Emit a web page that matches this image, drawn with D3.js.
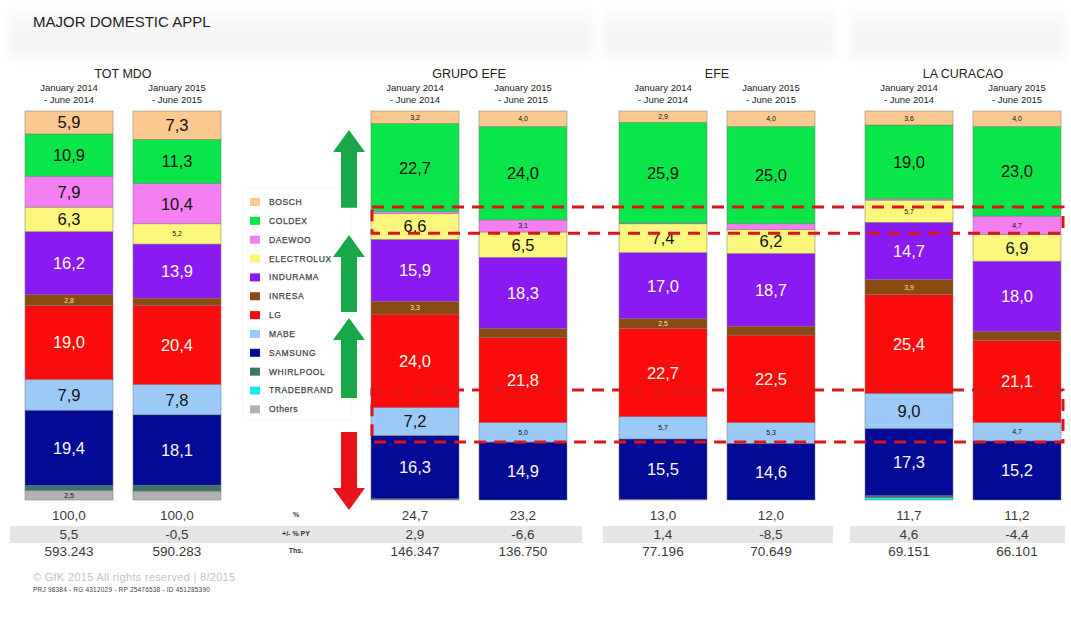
<!DOCTYPE html>
<html>
<head>
<meta charset="utf-8">
<script src="https://cdn.jsdelivr.net/npm/d3@7"></script>
<style>
  body { margin: 0; background: #fff; }
  text { font-family: "Liberation Sans", Arial, sans-serif; }
</style>
</head>
<body>
<svg id="chart" width="1071" height="624"></svg>
<script>
// ---- data ----
const brands = ["BOSCH", "COLDEX", "DAEWOO", "ELECTROLUX", "INDURAMA", "INRESA", "LG", "MABE", "SAMSUNG", "WHIRLPOOL", "TRADEBRAND", "Others"];
const brandColors = ["#fbc890", "#0ae64a", "#f47ff0", "#fbf67c", "#8a1af2", "#8a4a12", "#fb0c0c", "#9ccaf6", "#020a96", "#3e7567", "#1ce6ee", "#b2b2b2"];
const groups = ["TOT MDO", "GRUPO EFE", "EFE", "LA CURACAO"];
const periods = ["January 2014|- June 2014", "January 2015|- June 2015"];

// share per brand, same order as brands
const totMdo2014 = [5.9, 10.9, 7.9, 6.3, 16.2, 2.8, 19.0, 7.9, 19.4, 1.2, 0.0, 2.5];
const totMdo2015 = [7.3, 11.3, 10.4, 5.2, 13.9, 1.8, 20.4, 7.8, 18.1, 1.5, 0.0, 2.3];
const grupoEfe2014 = [3.2, 22.7, 0.5, 6.6, 15.9, 3.3, 24.0, 7.2, 16.3, 0.1, 0.0, 0.2];
const grupoEfe2015 = [4.0, 24.0, 3.1, 6.5, 18.3, 2.4, 21.8, 5.0, 14.9, 0.0, 0.0, 0.0];
const efe2014 = [2.9, 25.9, 0.2, 7.4, 17.0, 2.5, 22.7, 5.7, 15.5, 0.0, 0.0, 0.2];
const efe2015 = [4.0, 25.0, 1.4, 6.2, 18.7, 2.3, 22.5, 5.3, 14.6, 0.0, 0.0, 0.0];
const laCuracao2014 = [3.6, 19.0, 0.3, 5.7, 14.7, 3.9, 25.4, 9.0, 17.3, 0.5, 0.6, 0.0];
const laCuracao2015 = [4.0, 23.0, 4.7, 6.9, 18.0, 2.4, 21.1, 4.7, 15.2, 0.0, 0.0, 0.0];

const pctOfTotal = [100.0, 100.0, 24.7, 23.2, 13.0, 12.0, 11.7, 11.2];
const pctVsPY = [5.5, -0.5, 2.9, -6.6, 1.4, -8.5, 4.6, -4.4];
const thsUnits = [593243, 590283, 146347, 136750, 77196, 70649, 69151, 66101];
const rowLabels = ["%", "+/- % PY", "Ths."];

// annotations (in share units): arrows [from, to], dashed boxes [top, bottom]
const greenArrows = [[75.1, 95.1], [48.3, 68.1], [26.2, 46.8]];
const redArrows = [[17.5, -2.6]];
const dashBoxes = [[75.3, 68.6], [28.3, 14.9]];

// ---- setup ----
const svg = d3.select("#chart");
const locale = d3.formatLocale({decimal: ",", thousands: ".", grouping: [3], currency: ["", ""], minus: "-"});
const fmt1 = locale.format(".1f");
const fmtTh = locale.format(",d");

const bars = [
  {group: "TOT MDO", period: periods[0], v: totMdo2014},
  {group: "TOT MDO", period: periods[1], v: totMdo2015},
  {group: "GRUPO EFE", period: periods[0], v: grupoEfe2014},
  {group: "GRUPO EFE", period: periods[1], v: grupoEfe2015},
  {group: "EFE", period: periods[0], v: efe2014},
  {group: "EFE", period: periods[1], v: efe2015},
  {group: "LA CURACAO", period: periods[0], v: laCuracao2014},
  {group: "LA CURACAO", period: periods[1], v: laCuracao2015}
];
bars.forEach((b, i) => {
  b.idx = i;
  brands.forEach((k, j) => b[k] = b.v[j]);
});

const gx = d3.scaleOrdinal().domain(groups).range([25, 371, 619, 865]);
const px = d3.scaleBand().domain(periods).range([0, 196]).paddingInner(0.185);
const y = d3.scaleLinear().domain([0, 100]).range([500, 111]);
const color = d3.scaleOrdinal().domain(brands).range(brandColors);
const barX = b => gx(b.group) + px(b.period);
const cx = b => barX(b) + px.bandwidth() / 2;

// ---- background bands ----
const defs = svg.append("defs");
const grad = defs.append("linearGradient").attr("id", "band").attr("x1", 0).attr("x2", 0).attr("y1", 0).attr("y2", 1);
grad.append("stop").attr("offset", "0%").attr("stop-color", "#fcfcfc");
grad.append("stop").attr("offset", "60%").attr("stop-color", "#f3f3f3");
grad.append("stop").attr("offset", "100%").attr("stop-color", "#f9f9f9");
const blur = defs.append("filter").attr("id", "soft");
blur.append("feGaussianBlur").attr("stdDeviation", 4);

svg.append("g").attr("filter", "url(#soft)")
  .selectAll("rect").data([[8, 8, 585, 52], [603, 8, 232, 52], [850, 8, 216, 52]])
  .join("rect")
  .attr("x", d => d[0]).attr("y", d => d[1]).attr("width", d => d[2]).attr("height", d => d[3])
  .attr("fill", "url(#band)");

svg.append("text").attr("x", 33).attr("y", 27).attr("font-size", 15).attr("fill", "#222")
  .text("MAJOR DOMESTIC APPL");

// ---- headers ----
svg.append("g").selectAll("text").data(groups).join("text")
  .attr("x", g => gx(g) + 98).attr("y", 78)
  .attr("text-anchor", "middle").attr("font-size", 12.5).attr("fill", "#222")
  .text(g => g);

const sub = svg.append("g").selectAll("text").data(bars).join("text")
  .attr("text-anchor", "middle").attr("font-size", 9.5).attr("fill", "#222");
sub.append("tspan").attr("x", cx).attr("y", 91).text(b => b.period.split("|")[0]);
sub.append("tspan").attr("x", cx).attr("y", 103).text(b => b.period.split("|")[1]);

// ---- stacked bars ----
const stack = d3.stack().keys(brands.slice().reverse());
const series = stack(bars);

const layer = svg.append("g").selectAll("g").data(series).join("g")
  .attr("fill", s => color(s.key));
layer.selectAll("rect").data(s => s.map(d => Object.assign(d, {key: s.key}))).join("rect")
  .attr("x", d => barX(d.data))
  .attr("width", px.bandwidth())
  .attr("y", d => y(d[1]))
  .attr("height", d => y(d[0]) - y(d[1]))
  .attr("stroke", "#7a7a7a").attr("stroke-width", 0.5);

const darkText = new Set(["BOSCH", "COLDEX", "DAEWOO", "ELECTROLUX", "MABE", "Others"]);
const segs = series.flatMap(s => s).filter(d => d[1] - d[0] >= 2.5);
svg.append("g").selectAll("text").data(segs).join("text")
  .attr("x", d => cx(d.data))
  .attr("y", d => (y(d[0]) + y(d[1])) / 2)
  .attr("dy", "0.36em")
  .attr("text-anchor", "middle")
  .attr("font-size", d => (d[1] - d[0]) >= 5.8 ? 16.5 : 7)
  .attr("fill", d => darkText.has(d.key) ? "#111" : (d.key === "INRESA" ? "#f5e9a0" : "#fff8ec"))
  .text(d => fmt1(d[1] - d[0]));

// ---- legend ----
const legend = svg.append("g");
legend.append("rect").attr("x", 243).attr("y", 188).attr("width", 108).attr("height", 232)
  .attr("fill", "#fff").attr("stroke", "#f5f5f5");
const li = legend.selectAll("g").data(brands).join("g")
  .attr("transform", (d, i) => `translate(250,${202 + i * 18.85})`);
li.append("rect").attr("x", 0).attr("y", -4).attr("width", 10).attr("height", 8)
  .attr("fill", d => color(d));
li.append("text").attr("x", 19).attr("dy", "0.35em").attr("font-size", 8.5)
  .attr("fill", "#444").attr("letter-spacing", 0.6)
  .attr("stroke", "#444").attr("stroke-width", 0.25)
  .text(d => d);

// ---- arrows ----
const ax = 349, headW = 16, shaftW = 8, headH = 22;
function arrowPath(from, to) {
  const y0 = y(from), y1 = y(to), dir = y1 < y0 ? 1 : -1;
  const hb = y1 + dir * headH;
  return `M${ax - shaftW},${y0} L${ax - shaftW},${hb} L${ax - headW},${hb} L${ax},${y1} ` +
         `L${ax + headW},${hb} L${ax + shaftW},${hb} L${ax + shaftW},${y0} Z`;
}
svg.append("g").selectAll("path").data(greenArrows).join("path")
  .attr("d", d => arrowPath(d[0], d[1])).attr("fill", "#18a84a");
svg.append("g").selectAll("path").data(redArrows).join("path")
  .attr("d", d => arrowPath(d[0], d[1])).attr("fill", "#e8141c");

// ---- dashed highlight boxes ----
svg.append("g").selectAll("rect").data(dashBoxes).join("rect")
  .attr("x", 372).attr("width", 1063 - 372)
  .attr("y", d => y(d[0])).attr("height", d => y(d[1]) - y(d[0]))
  .attr("fill", "none").attr("stroke", "#d8161c").attr("stroke-width", 3)
  .attr("stroke-dasharray", "12,8");

// ---- bottom table ----
svg.append("g").selectAll("rect").data([[10, 572], [603, 230], [850, 215]]).join("rect")
  .attr("x", d => d[0]).attr("width", d => d[1]).attr("y", 526).attr("height", 17)
  .attr("fill", "#e6e6e6");

const rowsY = [515, 534, 551];
const table = svg.append("g").attr("font-size", 13.5).attr("fill", "#3a3a3a").attr("text-anchor", "middle");
table.selectAll(".r0").data(bars).join("text").attr("class", "r0")
  .attr("x", cx).attr("y", rowsY[0]).attr("dy", "0.35em").text(b => fmt1(pctOfTotal[b.idx]));
table.selectAll(".r1").data(bars).join("text").attr("class", "r1")
  .attr("x", cx).attr("y", rowsY[1]).attr("dy", "0.35em").text(b => fmt1(pctVsPY[b.idx]));
table.selectAll(".r2").data(bars).join("text").attr("class", "r2")
  .attr("x", cx).attr("y", rowsY[2]).attr("dy", "0.35em").text(b => fmtTh(thsUnits[b.idx]));
svg.append("g").selectAll("text").data(rowLabels).join("text")
  .attr("x", 296).attr("y", (d, i) => rowsY[i]).attr("dy", "0.35em")
  .attr("text-anchor", "middle").attr("font-size", 7).attr("font-weight", "bold").attr("fill", "#333")
  .text(d => d);

// ---- footer ----
svg.append("text").attr("x", 33).attr("y", 581).attr("font-size", 11).attr("fill", "#c4c4c4")
  .attr("letter-spacing", 0.3)
  .text("© GfK 2015   All rights reserved | 8/2015");
svg.append("text").attr("x", 33).attr("y", 592).attr("font-size", 6.5).attr("fill", "#444")
  .attr("letter-spacing", 0.2)
  .text("PRJ 98384 - RG 4312029 - RP 25476538 - ID 451285390");
</script>
</body>
</html>
